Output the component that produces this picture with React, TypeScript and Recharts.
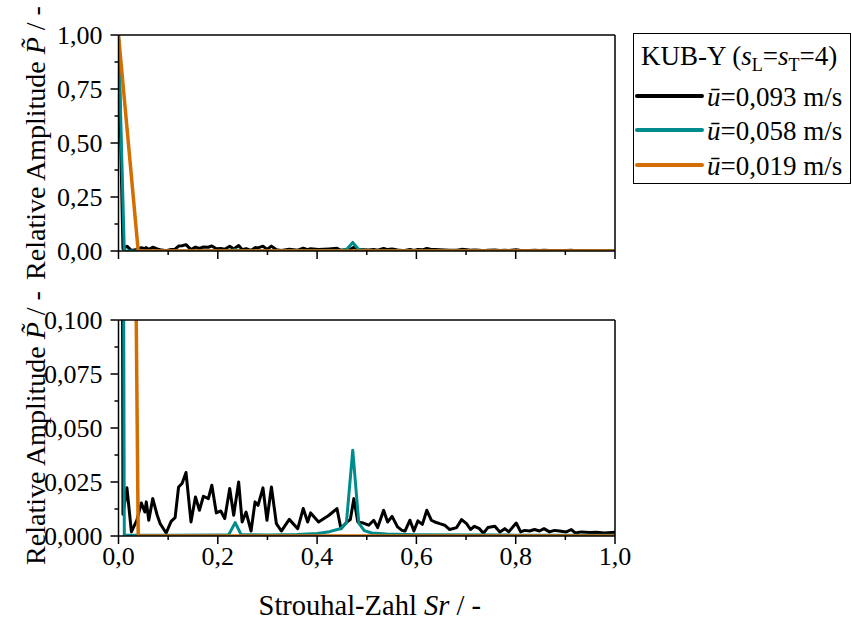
import { Label, Line, LineChart, XAxis, YAxis } from "recharts";

const FONT = "'Liberation Serif', 'Times New Roman', serif";

// Sr ticks (major at even index, minor at odd)
const srTicks = [0, 0.1, 0.2, 0.3, 0.4, 0.5, 0.6, 0.7, 0.8, 0.9, 1.0];
const fullTicks = [0, 0.125, 0.25, 0.375, 0.5, 0.625, 0.75, 0.875, 1.0];
const zoomTicks = [0, 0.0125, 0.025, 0.0375, 0.05, 0.0625, 0.075, 0.0875, 0.1];

// [Sr, P~]
const u093: [number, number][] = [
  [0, 1.0], [0.009, 0.0101], [0.017, 0.0223], [0.026, 0.0019], [0.037, 0.0073], [0.046, 0.0153],
  [0.053, 0.0111], [0.056, 0.0158], [0.061, 0.0073], [0.069, 0.0173], [0.078, 0.0096], [0.084, 0.0057],
  [0.096, 0.0014], [0.106, 0.0068], [0.114, 0.0085], [0.121, 0.0227], [0.128, 0.0243], [0.136, 0.0294],
  [0.146, 0.0065], [0.155, 0.0181], [0.163, 0.0119], [0.171, 0.0184], [0.181, 0.0173], [0.188, 0.0235],
  [0.197, 0.0107], [0.206, 0.0116], [0.214, 0.0081], [0.224, 0.022], [0.232, 0.0096], [0.242, 0.025],
  [0.249, 0.0065], [0.257, 0.0111], [0.267, 0.0023], [0.275, 0.0158], [0.281, 0.0142], [0.291, 0.0223],
  [0.299, 0.0073], [0.308, 0.0227], [0.318, 0.0057], [0.328, 0.0023], [0.344, 0.0077], [0.361, 0.0034],
  [0.372, 0.0127], [0.381, 0.0065], [0.387, 0.0107], [0.403, 0.0065], [0.424, 0.0096], [0.44, 0.0127],
  [0.448, 0.0034], [0.46, 0.0065], [0.467, 0.0076], [0.474, 0.0173], [0.482, 0.0065], [0.493, 0.006],
  [0.504, 0.005], [0.514, 0.0073], [0.522, 0.0039], [0.534, 0.0119], [0.542, 0.0065], [0.551, 0.0091],
  [0.562, 0.0042], [0.571, 0.0026], [0.577, 0.0023], [0.587, 0.0073], [0.595, 0.0023], [0.603, 0.007],
  [0.612, 0.0054], [0.621, 0.0119], [0.63, 0.0073], [0.637, 0.0065], [0.647, 0.0057], [0.657, 0.005],
  [0.667, 0.003], [0.681, 0.0039], [0.691, 0.0076], [0.701, 0.0057], [0.709, 0.003], [0.717, 0.0045],
  [0.727, 0.0034], [0.735, 0.0013], [0.744, 0.0039], [0.758, 0.0045], [0.768, 0.0019], [0.778, 0.0034],
  [0.786, 0.0019], [0.801, 0.006], [0.81, 0.0019], [0.818, 0.0026], [0.828, 0.0023], [0.838, 0.003],
  [0.848, 0.0023], [0.857, 0.0034], [0.868, 0.0019], [0.878, 0.0026], [0.888, 0.0023], [0.902, 0.0019],
  [0.912, 0.003], [0.92, 0.0014], [0.932, 0.0019], [0.949, 0.0016], [0.962, 0.0017], [0.979, 0.0014],
  [1.0, 0.0017],
];

const u058: [number, number][] = [
  [0, 1.0], [0.0117, 0.0004], [0.1, 0.0003], [0.2, 0.0005], [0.222, 0.0006], [0.235, 0.0062],
  [0.247, 0.0006], [0.3, 0.0005], [0.36, 0.0007], [0.4, 0.0012], [0.425, 0.002], [0.448, 0.0035],
  [0.459, 0.006], [0.4718, 0.0397], [0.484, 0.006], [0.495, 0.0025], [0.51, 0.0014], [0.54, 0.0009],
  [0.6, 0.0006], [0.8, 0.0004], [1.0, 0.0003],
];

const u019: [number, number][] = [
  [0, 1.0], [0.0397, 0], [0.2, 0], [0.4, 0], [0.6, 0], [0.8, 0], [1.0, 0],
];

const series = [
  { label: "0,093", points: u093, color: "#000000", width: 3 },
  { label: "0,058", points: u058, color: "#008C8C", width: 3 },
  { label: "0,019", points: u019, color: "#D46E00", width: 3.5 },
].map((s) => ({ ...s, data: s.points.map(([sr, p]) => ({ sr, p })) }));

const axisLine = { stroke: "#000", strokeWidth: 1.5 };

const yTick = (digits: number) => (props: any) => {
  const { x, y, index, payload } = props;
  const major = index % 2 === 0;
  return (
    <g>
      <line x1={x} x2={x - (major ? 8 : 4)} y1={y} y2={y} stroke="#000" strokeWidth={1.5} />
      {major && (
        <text x={x - 16} y={y} dy="0.34em" textAnchor="end" fontSize={26} fontFamily={FONT} fill="#000">
          {Number(payload.value).toFixed(digits).replace(".", ",")}
        </text>
      )}
    </g>
  );
};

const xTick = (showLabel: boolean) => (props: any) => {
  const { x, y, index, payload } = props;
  const major = index % 2 === 0;
  return (
    <g>
      <line x1={x} x2={x} y1={y} y2={y + (major ? 8 : 4)} stroke="#000" strokeWidth={1.5} />
      {showLabel && major && (
        <text x={x} y={y + 29} textAnchor="middle" fontSize={26} fontFamily={FONT} fill="#000">
          {Number(payload.value).toFixed(1).replace(".", ",")}
        </text>
      )}
    </g>
  );
};

const yLabel = (props: any) => {
  const vb = props.viewBox || {};
  const cx = vb.x - 73;
  const cy = vb.y + vb.height / 2;
  return (
    <text x={cx} y={cy} transform={`rotate(-90, ${cx}, ${cy})`} textAnchor="middle" fontSize={28} fontFamily={FONT} fill="#000">
      Relative Amplitude <tspan fontStyle="italic">P&#x303;</tspan> / -
    </text>
  );
};

const xLabel = (props: any) => {
  const vb = props.viewBox || {};
  return (
    <text x={vb.x + vb.width / 2 + 3} y={vb.y + 79} textAnchor="middle" fontSize={28.5} fontFamily={FONT} fill="#000">
      Strouhal-Zahl <tspan fontStyle="italic">Sr</tspan> / -
    </text>
  );
};

function Panel({
  height,
  margin,
  ticks,
  digits,
  top,
  showX,
}: {
  height: number;
  margin: { top: number; right: number; bottom: number; left: number };
  ticks: number[];
  digits: number;
  top: number;
  showX: boolean;
}) {
  return (
    <div style={{ position: "absolute", left: 0, top, width: 852, height }}>
      <LineChart width={852} height={height} margin={margin}>
        <XAxis
          dataKey="sr"
          type="number"
          domain={[0, 1]}
          ticks={srTicks}
          interval={0}
          allowDataOverflow
          height={1}
          tickSize={0}
          tickMargin={0}
          tickLine={false}
          axisLine={axisLine}
          tick={xTick(showX)}
        >
          {showX && <Label content={xLabel} />}
        </XAxis>
        <YAxis
          type="number"
          domain={[0, ticks[ticks.length - 1]]}
          ticks={ticks}
          interval={0}
          allowDataOverflow
          width={1}
          tickSize={0}
          tickMargin={0}
          tickLine={false}
          axisLine={axisLine}
          tick={yTick(digits)}
        >
          <Label content={yLabel} />
        </YAxis>
        <XAxis xAxisId="frame" orientation="top" type="number" domain={[0, 1]} height={1} tick={false} tickLine={false} axisLine={axisLine} />
        <YAxis yAxisId="frame" orientation="right" type="number" width={1} tick={false} tickLine={false} axisLine={axisLine} />
        {series.map((s) => (
          <Line
            key={s.label}
            data={s.data}
            dataKey="p"
            type="linear"
            stroke={s.color}
            strokeWidth={s.width}
            strokeLinejoin="round"
            dot={false}
            activeDot={false}
            isAnimationActive={false}
          />
        ))}
      </LineChart>
    </div>
  );
}

function LegendBox() {
  const rows = [62, 96, 131];
  return (
    <div
      style={{
        position: "absolute",
        left: 633,
        top: 33,
        width: 218,
        height: 151,
        border: "1.5px solid #000",
        boxSizing: "border-box",
        background: "#fff",
      }}
    >
      <svg width={216} height={148} style={{ display: "block" }}>
        <text x={7} y={31} fontSize={27} fontFamily={FONT} fill="#000">
          KUB-Y (<tspan fontStyle="italic">s</tspan>
          <tspan fontSize={18} dy={6}>L</tspan>
          <tspan dy={-6}>=</tspan>
          <tspan fontStyle="italic">s</tspan>
          <tspan fontSize={18} dy={6}>T</tspan>
          <tspan dy={-6}>=4)</tspan>
        </text>
        {series.map((s, i) => (
          <g key={s.label}>
            <line x1={3} x2={68} y1={rows[i]} y2={rows[i]} stroke={s.color} strokeWidth={4} strokeLinecap="round" />
            <text x={73} y={rows[i] + 10} fontSize={27} fontFamily={FONT} fill="#000">
              <tspan fontStyle="italic">u&#x304;</tspan>=
              {s.label} m/s
            </text>
          </g>
        ))}
      </svg>
    </div>
  );
}

export default function App() {
  return (
    <div style={{ position: "absolute", left: 0, top: 0, width: 852, height: 620, background: "#fff", fontFamily: FONT }}>
      <Panel height={282} top={0} margin={{ top: 34, right: 236, bottom: 30, left: 117.5 }} ticks={fullTicks} digits={2} showX={false} />
      <Panel height={340} top={280} margin={{ top: 39, right: 236, bottom: 83, left: 117.5 }} ticks={zoomTicks} digits={3} showX />
      <LegendBox />
    </div>
  );
}
